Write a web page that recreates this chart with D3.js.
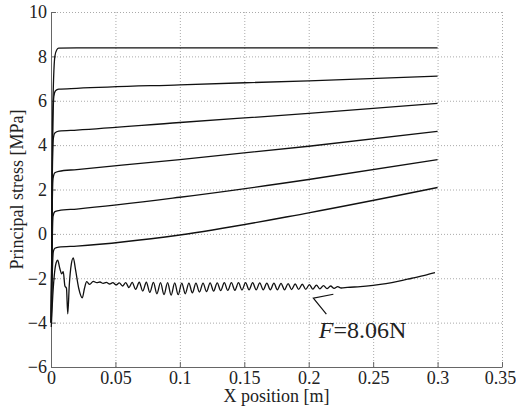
<!DOCTYPE html>
<html>
<head>
<meta charset="utf-8">
<script src="https://cdn.jsdelivr.net/npm/d3@7"></script>
<style>
  body { margin: 0; background: #fff; }
  svg text { font-family: "Liberation Serif", "DejaVu Serif", serif; fill: #222; }
</style>
</head>
<body>
<div id="chart"></div>
<script>
var xTicks = [0, 0.05, 0.1, 0.15, 0.2, 0.25, 0.3, 0.35];
var yTicks = [-6, -4, -2, 0, 2, 4, 6, 8, 10];

// principal stress curves, [x position (m), stress (MPa)]
var curve1 = [[0.0002,-4],[0.0012,5],[0.003,8],[0.0045,8.3],[0.006,8.37],[0.02,8.38],[0.1,8.38],[0.2,8.38],[0.3,8.38]];
var curve2 = [[0.0002,-4],[0.001,3],[0.0022,6.2],[0.0035,6.45],[0.006,6.52],[0.02,6.56],[0.1,6.72],[0.2,6.9],[0.3,7.11]];
var curve3 = [[0.0002,-4],[0.0009,2],[0.0018,4.3],[0.003,4.55],[0.006,4.63],[0.02,4.68],[0.1,5.02],[0.2,5.43],[0.3,5.88]];
var curve4 = [[0.0002,-4],[0.0008,0.5],[0.0016,2.5],[0.003,2.75],[0.006,2.82],[0.02,2.9],[0.1,3.35],[0.2,3.95],[0.3,4.62]];
var curve5 = [[0.0002,-4],[0.0008,-1],[0.0016,0.8],[0.003,1.0],[0.006,1.05],[0.02,1.12],[0.1,1.65],[0.2,2.45],[0.3,3.35]];
var curve6 = [[0.0002,-4],[0.0009,-2],[0.0018,-0.8],[0.003,-0.65],[0.006,-0.6],[0.02,-0.55],[0.1,-0.05],[0.2,0.95],[0.3,2.09]];
// F = 8.06 N
var curve7 = [[0.0002,-4.2],[0.001,-3.2],[0.0025,-1.9],[0.004,-1.3],[0.0052,-1.18],[0.0068,-1.55],[0.0083,-1.8],[0.0095,-1.7],
  [0.0108,-2.35],[0.012,-2.45],[0.013,-3.6],[0.0142,-2.3],[0.0158,-1.35],[0.0173,-1.08],[0.019,-1.6],[0.0215,-2.45],
  [0.0243,-2.88],[0.026,-2.45],[0.0277,-2.15],[0.03,-2.28],[0.0328,-2.14],[0.0355,-2.2],[0.038,-2.17],[0.0405,-2.23],
  [0.043,-2.19],[0.0455,-2.26],[0.048,-2.2],[0.0505,-2.3],[0.053,-2.21],[0.0555,-2.35],[0.058,-2.2],[0.0605,-2.42],
  [0.063,-2.19],[0.0657,-2.5],[0.0685,-2.18],[0.0712,-2.58],[0.074,-2.18],[0.0767,-2.64],[0.0795,-2.19],[0.0822,-2.7],
  [0.085,-2.2],[0.0877,-2.74],[0.0905,-2.2],[0.0932,-2.76],[0.096,-2.21],[0.0987,-2.74],[0.1015,-2.22],[0.1042,-2.7],
  [0.107,-2.22],[0.1097,-2.66],[0.1125,-2.22],[0.1152,-2.62],[0.118,-2.22],[0.1207,-2.6],[0.1235,-2.21],[0.1262,-2.58],
  [0.129,-2.21],[0.1317,-2.56],[0.1345,-2.2],[0.1372,-2.55],[0.14,-2.2],[0.1427,-2.54],[0.1455,-2.2],[0.1482,-2.53],
  [0.151,-2.2],[0.1537,-2.52],[0.1565,-2.2],[0.1592,-2.52],[0.162,-2.21],[0.1647,-2.52],[0.1675,-2.22],[0.1702,-2.52],
  [0.173,-2.22],[0.1757,-2.52],[0.1785,-2.23],[0.1812,-2.52],[0.184,-2.24],[0.1867,-2.51],[0.1895,-2.26],[0.1922,-2.5],
  [0.195,-2.27],[0.1977,-2.5],[0.2005,-2.29],[0.2032,-2.49],[0.206,-2.31],[0.2087,-2.48],[0.2115,-2.33],[0.2142,-2.47],
  [0.217,-2.35],[0.2197,-2.46],[0.2225,-2.38],[0.2252,-2.44],[0.23,-2.41],[0.24,-2.38],[0.25,-2.32],[0.26,-2.24],
  [0.27,-2.13],[0.28,-2.0],[0.29,-1.87],[0.298,-1.75]];

var allCurves = [curve1, curve2, curve3, curve4, curve5, curve6, curve7];

var serif = '"Liberation Serif", "DejaVu Serif", serif';

var W = 516, H = 410;
var margin = {top: 12, right: 14, bottom: 43, left: 51};
var width = W - margin.left - margin.right,
    height = H - margin.top - margin.bottom;

var svg = d3.select("#chart").append("svg")
    .attr("width", W)
    .attr("height", H)
    .style("font-family", serif);
var g = svg.append("g").attr("transform", "translate(" + margin.left + "," + margin.top + ")");

var x = d3.scaleLinear().domain([0, 0.35]).range([0, width]);
var y = d3.scaleLinear().domain([-6, 10]).range([height, 0]);

// grid
g.append("g")
    .attr("transform", "translate(0," + height + ")")
    .call(d3.axisBottom(x).tickValues(xTicks).tickSize(-height).tickFormat(""))
    .call(function(s) { s.select(".domain").remove(); })
    .selectAll("line").attr("stroke", "#aaa").attr("stroke-dasharray", "1,2");
g.append("g")
    .call(d3.axisLeft(y).tickValues(yTicks).tickSize(-width).tickFormat(""))
    .call(function(s) { s.select(".domain").remove(); })
    .selectAll("line").attr("stroke", "#aaa").attr("stroke-dasharray", "1,2");

// axes
var xAxis = g.append("g")
    .attr("transform", "translate(0," + height + ")")
    .call(d3.axisBottom(x).tickValues(xTicks).tickSize(-5).tickPadding(4).tickSizeOuter(0)
      .tickFormat(function(d) { return d3.format("")(+d.toFixed(2)); }));
var yAxis = g.append("g")
    .call(d3.axisLeft(y).tickValues(yTicks).tickSize(-5).tickPadding(4).tickSizeOuter(0));
[xAxis, yAxis].forEach(function(a) {
  a.attr("font-family", null).style("font-family", serif);
  a.select(".domain").attr("stroke", "#666");
  a.selectAll(".tick line").attr("stroke", "#666");
  a.selectAll("text").attr("font-size", 18).style("font-family", serif).attr("fill", "#222");
});
// keep the last label inside the window
xAxis.selectAll(".tick text").filter(function(d) { return d === 0.35; }).attr("dx", -2);

// curves
var line = d3.line()
    .x(function(d) { return x(d[0]); })
    .y(function(d) { return y(d[1]); })
    .curve(d3.curveMonotoneX);

g.selectAll(".curve").data(allCurves).enter().append("path")
    .attr("class", "curve")
    .attr("d", line)
    .attr("fill", "none")
    .attr("stroke", "#111")
    .attr("stroke-width", 1.3);

// annotation arrow
var tip = [0.2036, -2.9];
var ax = x(tip[0]), ay = y(tip[1]);
g.append("path")
    .attr("d", "M" + (ax + 20) + "," + (ay - 4) + "L" + ax + "," + ay + "L" + (ax + 13) + "," + (ay + 16))
    .attr("fill", "none")
    .attr("stroke", "#111")
    .attr("stroke-width", 1.2);

var ann = g.append("text")
    .attr("x", x(0.2078))
    .attr("y", y(-4.7))
    .attr("font-size", 24)
    .style("font-family", serif);
ann.append("tspan").attr("font-style", "italic").text("F");
ann.append("tspan").text("=8.06N");

// axis labels
svg.append("text")
    .attr("x", margin.left + width / 2)
    .attr("y", 402)
    .attr("text-anchor", "middle")
    .attr("font-size", 18)
    .style("font-family", serif)
    .text("X position [m]");

svg.append("text")
    .attr("transform", "translate(23," + (margin.top + height / 2) + ") rotate(-90)")
    .attr("text-anchor", "middle")
    .attr("font-size", 18)
    .style("font-family", serif)
    .text("Principal stress [MPa]");
</script>
</body>
</html>
